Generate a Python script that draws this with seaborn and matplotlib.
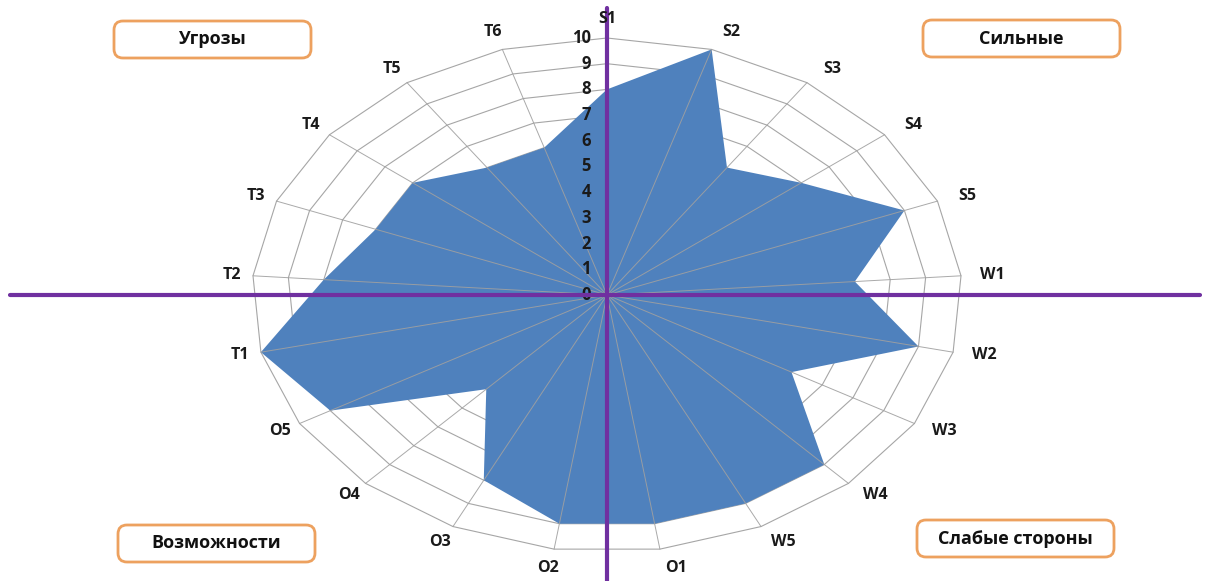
import numpy as np
import pandas as pd
import matplotlib
matplotlib.use("Agg")
import matplotlib.pyplot as plt
import seaborn as sns
from matplotlib.patches import FancyBboxPatch
from matplotlib.transforms import IdentityTransform

# SWOT scores per factor, clockwise from the top
categories = ["S1", "S2", "S3", "S4", "S5",
              "W1", "W2", "W3", "W4", "W5",
              "O1", "O2", "O3", "O4", "O5",
              "T1", "T2", "T3", "T4", "T5", "T6"]
scores = [8, 10, 6, 7, 9,
          7, 9, 6, 9, 9,
          9, 9, 8, 5, 9,
          10, 8, 7, 7, 6, 6]
radial_ticks = list(range(0, 11))
quadrant_titles = ["Сильные", "Слабые стороны", "Возможности", "Угрозы"]

sns.set_style("white")
plt.rcParams["font.family"] = ["Open Sans", "DejaVu Sans"]

W, H = 1209, 581
CX, CY = 607, 295          # chart centre in pixels (from top-left)
SX, SY = 35.5, 25.7        # pixels per score unit, horizontal / vertical

fig = plt.figure(figsize=(W / 100, H / 100), dpi=100)
ax = fig.add_axes([0, 0, 1, 1])
ax.set_xlim(-CX / SX, (W - CX) / SX)
ax.set_ylim(-(H - CY) / SY, CY / SY)
ax.axis("off")

n = len(categories)
theta = np.arange(n) * 2 * np.pi / n
ux, uy = np.sin(theta), np.cos(theta)

# polygonal rings 1..10
rows = []
for r in radial_ticks[1:]:
    for k in list(range(n)) + [0]:
        rows.append({"ring": r, "x": r * ux[k], "y": r * uy[k]})
rings = pd.DataFrame(rows)
sns.lineplot(data=rings, x="x", y="y", units="ring", estimator=None, sort=False,
             color="#a6a6a6", lw=0.8, ax=ax, zorder=1, legend=False)

# filled score area
vals = np.array(scores, dtype=float)
px, py = vals * ux, vals * uy
ax.fill(np.append(px, px[0]), np.append(py, py[0]), color="#4f81bd", lw=0, zorder=2)

# spokes drawn over the area
rmax = radial_ticks[-1]
spokes = pd.DataFrame(
    [{"spoke": k, "x": x, "y": y}
     for k in range(n) for x, y in ((0.0, 0.0), (rmax * ux[k], rmax * uy[k]))]
)
sns.lineplot(data=spokes, x="x", y="y", units="spoke", estimator=None, sort=False,
             color="#a0a0a0", lw=0.7, alpha=0.9, ax=ax, zorder=3, legend=False)

# category labels just outside the outer ring
for k, name in enumerate(categories):
    dx, dy = ux[k] * SX, uy[k] * SY
    norm = np.hypot(dx, dy)
    ox = dx / norm * 19 + (12 if ux[k] > 0.05 else (-2 if ux[k] < -0.05 else 0))
    oy = dy / norm * 19
    ax.annotate(name, xy=(rmax * ux[k], rmax * uy[k]), xytext=(ox, oy),
                textcoords="offset pixels", ha="center", va="center",
                fontsize=11.5, fontweight="bold", color="#1a1a1a", zorder=6)

# radial tick labels along the S1 spoke
for t in radial_ticks:
    ax.text(-0.45, t, str(t), ha="right", va="center", fontsize=12,
            fontweight="bold", color="#1a1a1a", zorder=4)

# quadrant dividers
ax.axhline(0, xmin=10 / W, xmax=1200 / W, color="#7030a0", lw=3, zorder=5)
ax.axvline(0, ymin=0, ymax=(H - 8) / H, color="#7030a0", lw=3, zorder=5)

# quadrant title boxes (pixel coordinates, origin at top-left)
boxes = [(923, 20), (917, 520), (118, 525), (114, 21)]
bw, bh = 197, 37
for (x0, y0), title in zip(boxes, quadrant_titles):
    patch = FancyBboxPatch((x0, H - y0 - bh), bw, bh,
                           boxstyle="round,pad=0,rounding_size=9",
                           transform=IdentityTransform(),
                           facecolor="white", edgecolor="#eda15f", lw=2)
    fig.add_artist(patch)
    fig.text(x0 + bw / 2, H - y0 - bh / 2, title, transform=IdentityTransform(),
             ha="center", va="center", fontsize=13, fontweight="bold", color="#111111")

fig.savefig("out.png", dpi=100)
